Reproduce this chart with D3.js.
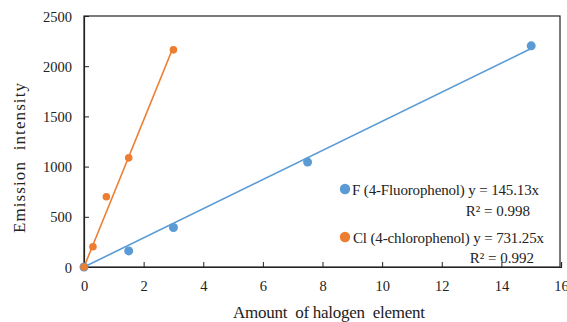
<!DOCTYPE html>
<html><head><meta charset="utf-8">
<script src="https://cdn.jsdelivr.net/npm/d3@7"></script>
<style>body{margin:0;background:#fff}svg{display:block}text{fill:#222;white-space:pre}</style>
</head><body><svg id="c" width="567" height="322" font-family="'Liberation Serif', 'DejaVu Serif', serif"></svg>
<script>
const xTicks=[0,2,4,6,8,10,12,14,16];
const yTicks=[0,500,1000,1500,2000,2500];
const fX=[0,1.5,3,7.5,15];
const fY=[0,160,393,1045,2203];
const clX=[0,0.3,0.75,1.5,3];
const clY=[0,202,700,1087,2163];
const fSlope=145.13, clSlope=731.25;
const fLabel="F (4-Fluorophenol) y = 145.13x", fR2="R² = 0.998";
const clLabel="Cl (4-chlorophenol) y = 731.25x", clR2="R² = 0.992";
const xTitle="Amount  of halogen  element", yTitle="Emission  intensity";
const blue="#5B9BD5", orange="#ED7D31";
const FONT="'Liberation Serif', 'DejaVu Serif', serif";

const svg=d3.select("#c");
const L=84,R=561,T=16,B=267;
const x=d3.scaleLinear().domain([0,16]).range([L,R]);
const y=d3.scaleLinear().domain([0,2500]).range([B,T]);

svg.append("rect").attr("x",L).attr("y",T).attr("width",R-L-1).attr("height",B-T)
 .attr("fill","none").attr("stroke","#222").attr("stroke-width",1.2);

const xa=svg.append("g").attr("transform",`translate(0,${B})`)
 .call(d3.axisBottom(x).tickValues(xTicks).tickSize(-5).tickPadding(14).tickFormat(d3.format("d")));
const ya=svg.append("g").attr("transform",`translate(${L},0)`)
 .call(d3.axisLeft(y).tickValues(yTicks).tickSize(-5).tickPadding(12).tickFormat(d3.format("d")));
[xa,ya].forEach(a=>{a.attr("font-family",FONT).attr("font-size",14.5);
 a.select(".domain").attr("stroke","#222").attr("stroke-width",1.2);
 a.selectAll(".tick line").attr("stroke","#222");
 a.selectAll(".tick text").attr("fill","#222");});
ya.selectAll(".tick text").attr("dy","0.35em");

svg.append("line").attr("x1",x(0)).attr("y1",y(0)).attr("x2",x(d3.max(fX))).attr("y2",y(fSlope*d3.max(fX)))
 .attr("stroke",blue).attr("stroke-width",1.6);
svg.append("line").attr("x1",x(0)).attr("y1",y(0)).attr("x2",x(d3.max(clX))).attr("y2",y(clSlope*d3.max(clX)))
 .attr("stroke",orange).attr("stroke-width",1.6);

svg.append("g").selectAll("circle").data(fX.map((v,i)=>[v,fY[i]])).join("circle")
 .attr("cx",d=>x(d[0])).attr("cy",d=>y(d[1])).attr("r",4.5).attr("fill",blue);
svg.append("g").selectAll("circle").data(clX.map((v,i)=>[v,clY[i]])).join("circle")
 .attr("cx",d=>x(d[0])).attr("cy",d=>y(d[1])).attr("r",3.8).attr("fill",orange);

const t=(sel)=>sel.attr("font-family",FONT);
svg.append("circle").attr("cx",345).attr("cy",189).attr("r",5.2).attr("fill",blue);
t(svg.append("text")).attr("x",352).attr("y",195).attr("textLength",187).attr("font-size",15).text(fLabel);
t(svg.append("text")).attr("x",530).attr("y",215.5).attr("text-anchor","end").attr("font-size",15).text(fR2);
svg.append("circle").attr("cx",345).attr("cy",237).attr("r",5.2).attr("fill",orange);
t(svg.append("text")).attr("x",353).attr("y",243).attr("textLength",191).attr("font-size",15).text(clLabel);
t(svg.append("text")).attr("x",534).attr("y",263).attr("text-anchor","end").attr("font-size",15).text(clR2);

t(svg.append("text")).attr("x",233).attr("y",318).attr("textLength",192).attr("font-size",17).text(xTitle);
t(svg.append("text")).attr("transform","translate(25,233) rotate(-90)").attr("textLength",150).attr("font-size",17).text(yTitle);
</script></body></html>
